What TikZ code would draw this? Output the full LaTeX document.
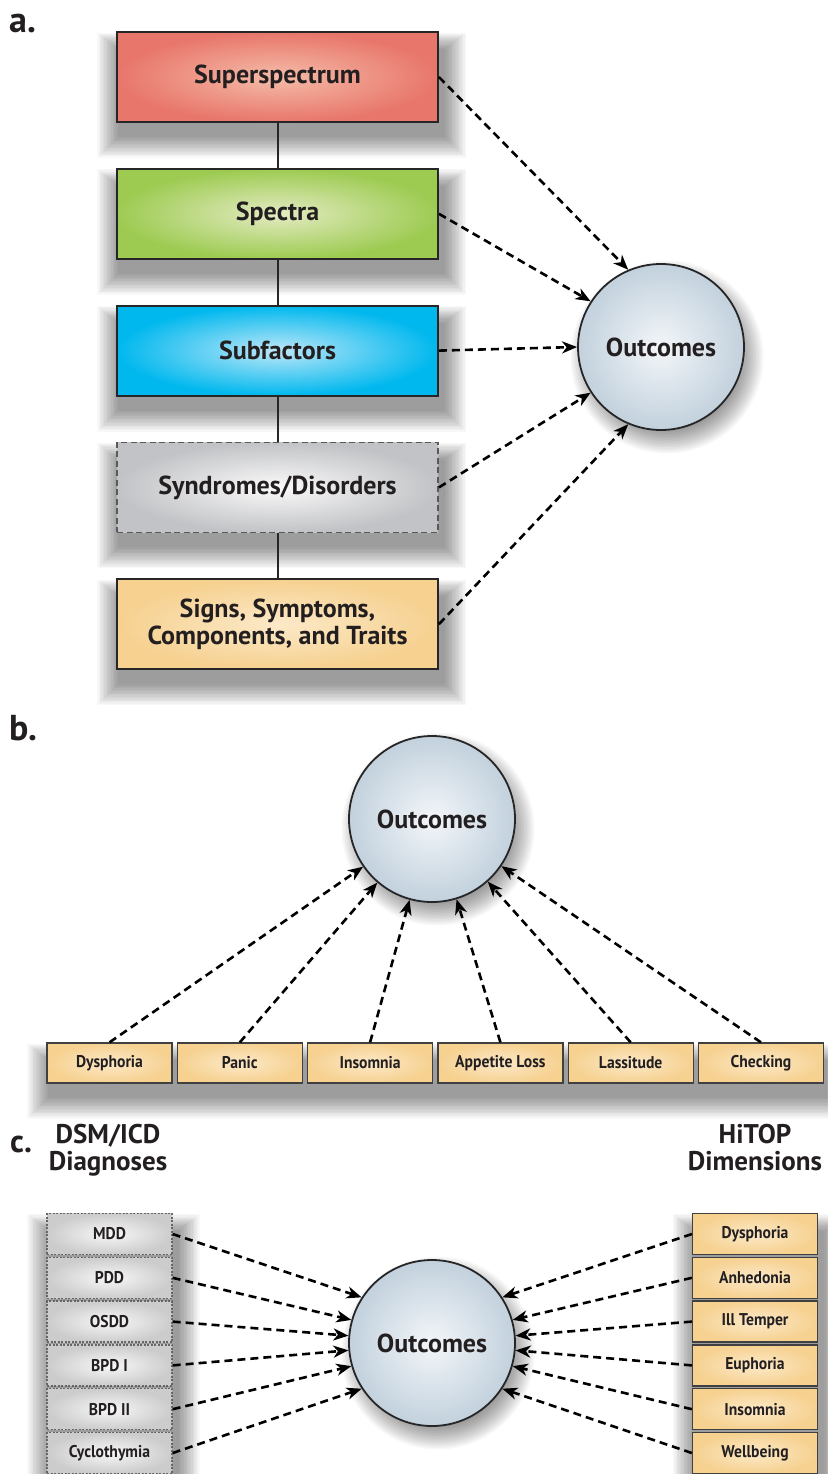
\documentclass[tikz,border=0pt]{standalone}
\usepackage{fontspec}
\setmainfont{PT Sans}
\newfontfamily\narrowsans{PT Sans}[FakeStretch=0.92]
\usepackage{xcolor}
\usepackage{tikz}
\usetikzlibrary{arrows.meta, positioning, backgrounds}
\definecolor{inkdark}{HTML}{231F20}
\definecolor{superedge}{HTML}{E8766B}
\definecolor{supermid}{HTML}{F5BCA8}
\definecolor{specedge}{HTML}{9DCB52}
\definecolor{specmid}{HTML}{E4EBC2}
\definecolor{subedge}{HTML}{00B8EE}
\definecolor{submid}{HTML}{BDE7F8}
\definecolor{synedge}{HTML}{C2C3C6}
\definecolor{synmid}{HTML}{FAFAFA}
\definecolor{tanedge}{HTML}{F6D190}
\definecolor{tanmid}{HTML}{FCE9C8}
\definecolor{orbedge}{HTML}{C2D1DD}
\definecolor{orbmid}{HTML}{F3F6F9}

\begin{document}
\begin{tikzpicture}[
        x=1pt, y=1pt,
        node distance=45pt,
        >={Stealth[length=15pt, width=12pt, inset=4.5pt]},
        haze/.style={fill=black, fill opacity=0.026},
        level/.style={draw=black!85, line width=1.8pt, shading=radial, minimum width=321pt, minimum height=90pt, text=inkdark, font=\fontsize{26}{27}\selectfont\bfseries, align=center},
        outcome/.style={circle, draw=black!85, line width=1.8pt, shading=radial, inner color=orbmid, outer color=orbedge, minimum size=166pt, inner sep=0pt, text=inkdark, font=\fontsize{26}{28}\selectfont\bfseries},
        chip/.style={draw=black!75, line width=1.3pt, shading=radial, inner color=tanmid, outer color=tanedge, minimum width=125pt, minimum height=40pt, inner sep=0pt, text=inkdark, font=\narrowsans\fontsize{17}{19}\selectfont\bfseries},
        stackbox/.style={chip, minimum height=41pt},
        dxbox/.style={stackbox, draw=black!60, dash pattern=on 2pt off 1.5pt, inner color=black!3, outer color=black!20},
        panel/.style={text=inkdark, font=\fontsize{36}{38}\selectfont\bfseries, inner sep=0pt},
        head/.style={text=inkdark, font=\fontsize{27}{27}\selectfont\bfseries, align=center, inner sep=0pt},
        tie/.style={draw=black!85, line width=2pt},
        link/.style={->, draw=black, line width=2.6pt, dash pattern=on 8pt off 5pt}
    ]
        \useasboundingbox (0,0) rectangle (827,-1474);

        % a. hierarchy
        \node[panel, anchor=base west] (laba) at (9,-33) {a.};
        \node[level, inner color=supermid, outer color=superedge] (super) at (277.5,-77) {Superspectrum};
        \node[level, inner color=specmid, outer color=specedge, below=of super] (spectra) {Spectra};
        \node[level, inner color=submid, outer color=subedge, below=of spectra] (subfac) {Subfactors};
        \node[level, inner color=synmid, outer color=synedge, draw=black!65, dash pattern=on 6pt off 3.5pt, below=of subfac] (syndr) {Syndromes/Disorders};
        \node[level, inner color=tanmid, outer color=tanedge, below=of syndr] (signs) {Signs, Symptoms,\\Components, and Traits};
        \node[outcome] (outa) at (661,-347) {Outcomes};

        \draw[tie] (super) -- (spectra);
        \draw[tie] (spectra) -- (subfac);
        \draw[tie] (subfac) -- (syndr);
        \draw[tie] (syndr) -- (signs);

        \draw[link] (super.east) -- (outa.113);
        \draw[link] (spectra.east) -- (outa.147);
        \draw[link] (subfac.east) -- (outa.west);
        \draw[link] (syndr.east) -- (outa.213);
        \draw[link] (signs.east) -- (outa.247);

        % b. symptoms
        \node[panel, anchor=base west] (labb) at (9,-740) {b.};
        \node[outcome] (outb) at (432,-819) {Outcomes};
        \node[chip] (dysb) at (109.5,-1063) {Dysphoria};
        \node[chip, right=4pt of dysb] (panic) {Panic};
        \node[chip, right=4pt of panic] (insb) {Insomnia};
        \node[chip, right=4pt of insb] (appet) {Appetite Loss};
        \node[chip, right=4pt of appet] (lassi) {Lassitude};
        \node[chip, right=4pt of lassi] (check) {Checking};

        \draw[link] (dysb.north) -- (outb);
        \draw[link] (panic.north) -- (outb);
        \draw[link] (insb.north) -- (outb);
        \draw[link] (appet.north) -- (outb);
        \draw[link] (lassi.north) -- (outb);
        \draw[link] (check.north) -- (outb);

        % c. diagnoses vs dimensions
        \node[panel, anchor=base west, font=\fontsize{32}{34}\selectfont\bfseries] (labc) at (10,-1152) {c.};
        \node[head, anchor=base] (dsm) at (108,-1170) {DSM/ICD\\Diagnoses};
        \node[head, anchor=base] (hitop) at (755,-1170) {HiTOP\\Dimensions};
        \node[outcome] (outc) at (432,-1343) {Outcomes};

        \node[dxbox] (mdd) at (109.5,-1234) {MDD};
        \node[dxbox, below=1.5pt of mdd] (pdd) {PDD};
        \node[dxbox, below=1.5pt of pdd] (osdd) {OSDD};
        \node[dxbox, below=1.5pt of osdd] (bpdone) {BPD I};
        \node[dxbox, below=1.5pt of bpdone] (bpdtwo) {BPD II};
        \node[dxbox, below=1.5pt of bpdtwo] (cyclo) {Cyclothymia};

        \node[stackbox] (dysc) at (755,-1234) {Dysphoria};
        \node[stackbox, below=1.5pt of dysc] (anhed) {Anhedonia};
        \node[stackbox, below=1.5pt of anhed] (illtmp) {Ill Temper};
        \node[stackbox, below=1.5pt of illtmp] (euph) {Euphoria};
        \node[stackbox, below=1.5pt of euph] (insc) {Insomnia};
        \node[stackbox, below=1.5pt of insc] (wellb) {Wellbeing};

        \draw[link] (mdd.east) -- (outc.147);
        \draw[link] (pdd.east) -- (outc.164);
        \draw[link] (osdd.east) -- (outc.175);
        \draw[link] (bpdone.east) -- (outc.185);
        \draw[link] (bpdtwo.east) -- (outc.196);
        \draw[link] (cyclo.east) -- (outc.213);

        \draw[link] (dysc.west) -- (outc.33);
        \draw[link] (anhed.west) -- (outc.16);
        \draw[link] (illtmp.west) -- (outc.5);
        \draw[link] (euph.west) -- (outc.-5);
        \draw[link] (insc.west) -- (outc.-16);
        \draw[link] (wellb.west) -- (outc.-33);

        % soft shadows, stacked translucent layers
        \begin{scope}[on background layer]
            \fill[white] (0,0) rectangle (827,-1474);
            \foreach \k in {0,...,15} {
                \foreach \a/\b in {super/super, spectra/spectra, subfac/subfac, syndr/syndr, signs/signs, dysb/check, mdd/cyclo, dysc/wellb}
                    \fill[haze] ([shift={(2-1.4*\k,-18+1.1*\k)}]\a.north west) rectangle ([shift={(6+1.4*\k,-14-1.4*\k)}]\b.south east);
                \foreach \o in {outa, outb, outc}
                    \fill[haze] ([shift={(6,-10)}]\o.center) circle[radius=74+1.5*\k];
            }
        \end{scope}
    \end{tikzpicture}
\end{document}
